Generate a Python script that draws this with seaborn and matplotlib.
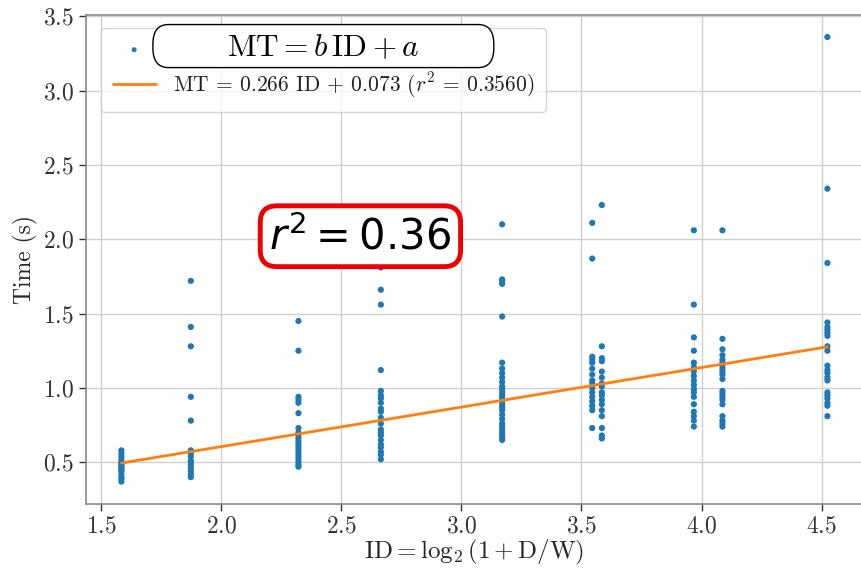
import numpy as np
import pandas as pd
import matplotlib
matplotlib.use('Agg')
import matplotlib.pyplot as plt
from matplotlib.patches import FancyBboxPatch
import seaborn as sns

# index of difficulty for each target condition
id_levels = [1.585, 1.874, 2.322, 2.665, 3.170, 3.545, 3.585, 3.968, 4.087, 4.524]

# movement times (s) read per ID column
t1 = [0.58, 0.56, 0.54, 0.52, 0.50, 0.49, 0.48, 0.47, 0.46, 0.45, 0.44, 0.42, 0.40, 0.39, 0.37]
t2 = [1.72, 1.41, 1.28, 0.94, 0.78, 0.58, 0.56, 0.54, 0.51, 0.50, 0.48, 0.46, 0.44, 0.42, 0.40]
t3 = [1.45, 1.25, 0.94, 0.92, 0.90, 0.83, 0.73, 0.70, 0.68, 0.66, 0.64, 0.62, 0.60, 0.58,
      0.56, 0.54, 0.52, 0.50, 0.48, 0.47]
t4 = [1.81, 1.66, 1.56, 1.12, 0.98, 0.95, 0.93, 0.90, 0.86, 0.84, 0.80, 0.76, 0.72, 0.70,
      0.68, 0.65, 0.62, 0.60, 0.57, 0.55, 0.52]
t5 = [2.10, 1.73, 1.72, 1.70, 1.48, 1.17, 1.13, 1.10, 1.07, 1.04, 1.01, 0.99, 0.97, 0.95,
      0.93, 0.91, 0.89, 0.87, 0.85, 0.82, 0.79, 0.76, 0.74, 0.72, 0.70, 0.68, 0.66, 0.65]
t6 = [2.11, 1.87, 1.21, 1.19, 1.17, 1.13, 1.09, 1.05, 1.03, 1.00, 0.97, 0.94, 0.91, 0.88,
      0.85, 0.73]
t7 = [2.23, 1.28, 1.20, 1.18, 1.11, 1.07, 1.03, 1.01, 0.97, 0.95, 0.92, 0.89, 0.85, 0.81,
      0.73, 0.68, 0.66]
t8 = [2.06, 1.56, 1.34, 1.25, 1.17, 1.14, 1.11, 1.08, 1.05, 1.02, 0.99, 0.97, 0.94, 0.89,
      0.84, 0.81, 0.78, 0.74]
t9 = [2.06, 1.33, 1.26, 1.22, 1.19, 1.17, 1.15, 1.13, 1.11, 1.09, 1.06, 0.98, 0.96, 0.94,
      0.92, 0.89, 0.81, 0.78, 0.76, 0.74]
t10 = [3.36, 2.34, 1.84, 1.44, 1.41, 1.39, 1.37, 1.35, 1.28, 1.25, 1.15, 1.12, 1.10, 1.07,
       1.05, 0.97, 0.95, 0.93, 0.90, 0.88, 0.81]

# fitted model shown in the legend
slope = 0.266
intercept = 0.073
r2 = 0.3560

times = [t1, t2, t3, t4, t5, t6, t7, t8, t9, t10]
df = pd.concat([pd.DataFrame({'ID': lvl, 'MT': t}) for lvl, t in zip(id_levels, times)],
               ignore_index=True)

fit = pd.DataFrame({'ID': [min(id_levels), max(id_levels)]})
fit['MT'] = slope * fit['ID'] + intercept

sns.set_style('white')
plt.rcParams['font.family'] = 'serif'
plt.rcParams['font.serif'] = ['cmr10']
plt.rcParams['mathtext.fontset'] = 'cm'
plt.rcParams['axes.formatter.use_mathtext'] = True
plt.rcParams['axes.unicode_minus'] = False
plt.rcParams['text.color'] = '#222222'
plt.rcParams['xtick.color'] = '#333333'
plt.rcParams['ytick.color'] = '#333333'

fig = plt.figure(figsize=(8.61, 5.68), dpi=100)
ax = fig.add_axes([0.1, 0.113, 0.902, 0.861])

sns.scatterplot(data=df, x='ID', y='MT', ax=ax, color='#1f77b4', s=20,
                edgecolor='none', label=' ', zorder=3)
sns.lineplot(data=fit, x='ID', y='MT', ax=ax, color='#ff7f0e', linewidth=2,
             label='MT = %.3f ID + %.3f ($r^2$ = %.4f)' % (slope, intercept, r2),
             zorder=4)

ax.margins(x=0.05, y=0.05)
ax.grid(True, color='#d0d0d0', linewidth=1)
for sp in ax.spines.values():
    sp.set_color('#888888')
    sp.set_linewidth(1.2)
ax.tick_params(axis='both', which='major', labelsize=17, length=5, width=1,
               direction='out', bottom=True, left=True)
ax.set_xlabel(r'$\mathrm{ID} = \log_2(1 + \mathrm{D/W})$', fontsize=18, labelpad=0)
ax.set_ylabel('Time (s)', fontsize=17)

leg = ax.legend(loc='upper left', fontsize=15.5, markerscale=0.8, handlelength=2,
                borderpad=0.55, labelspacing=0.5, framealpha=0.8,
                bbox_to_anchor=(0.005, 0.995))

# overlay callouts
box = FancyBboxPatch((0.086, 0.892), 0.439, 0.088, transform=ax.transAxes,
                     boxstyle='round,pad=0,rounding_size=0.02', facecolor='white',
                     edgecolor='black', linewidth=1, zorder=9, mutation_aspect=2)
ax.add_patch(box)
ax.text(0.305, 0.932, r'$\mathrm{MT} = b\,\mathrm{ID} + a$', transform=ax.transAxes,
        ha='center', va='center', fontsize=22.5, color='black', zorder=10)
ax.text(2.58, 2.02, r'$r^2 = 0.36$', ha='center', va='center', fontsize=30,
        math_fontfamily='dejavusans', color='black', zorder=10,
        bbox=dict(boxstyle='round,pad=0.22,rounding_size=0.4', facecolor='white',
                  edgecolor='#ee0000', linewidth=3.5))

fig.savefig('out.png', dpi=100)
